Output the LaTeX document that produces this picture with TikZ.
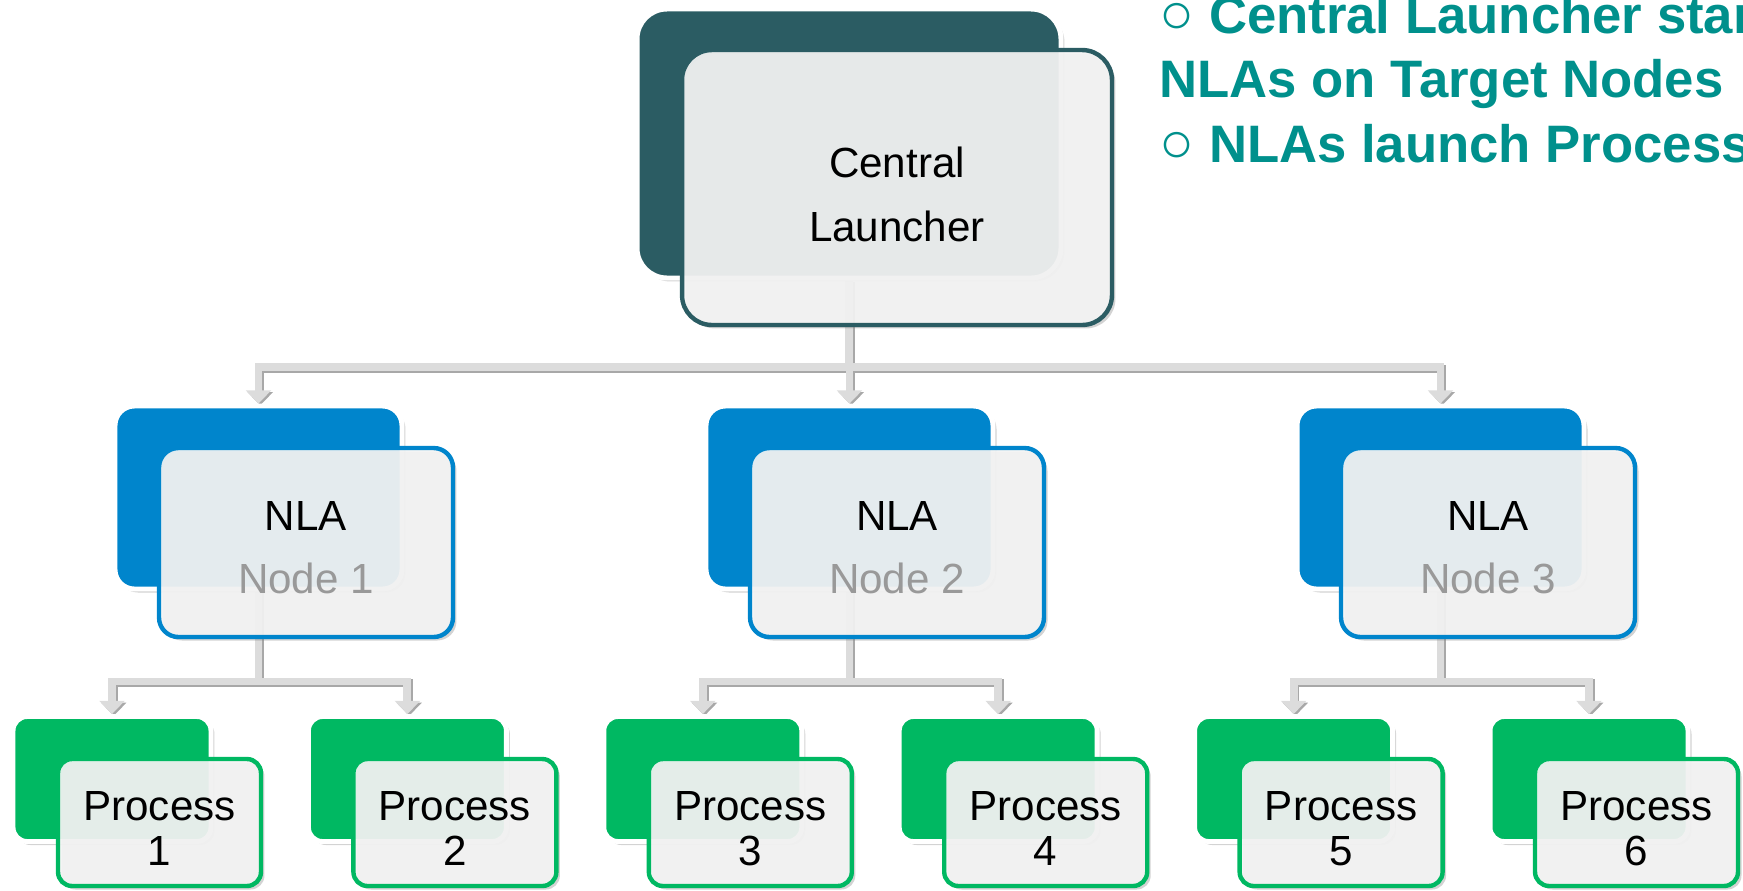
\documentclass[tikz,border=0pt]{standalone}
\usepackage{fontspec}
\setmainfont{Liberation Sans}
\usetikzlibrary{arrows.meta,shadows,backgrounds}
\definecolor{cldark}{HTML}{2B5C63}
\definecolor{nlablue}{HTML}{0085CC}
\definecolor{procgreen}{HTML}{00B862}
\definecolor{noteteal}{HTML}{00908C}
\definecolor{nodegray}{HTML}{999999}
\definecolor{wirefill}{HTML}{DCDCDC}
\definecolor{wireshade}{HTML}{A8A8A8}
\definecolor{panefill}{HTML}{F4F4F4}
\tikzset{
  back/.style={draw=white, line width=2.8pt, inner sep=0pt,
    drop shadow={shadow xshift=2pt, shadow yshift=-2pt, opacity=.35}},
  pane/.style={draw=#1, fill=panefill, fill opacity=.92, line width=2.5pt, inner sep=0pt,
    drop shadow={shadow xshift=2pt, shadow yshift=-2pt, opacity=.35}},
  panetext/.style={inner sep=0pt, align=center, font=\fontsize{24}{36}\selectfont},
  wire/.style={draw=wirefill, line width=4.5pt, -{Triangle[width=14pt,length=7.5pt]}},
  wireshadow/.style={wire, draw=wireshade, transform canvas={shift={(1pt,-1pt)}}},
  note/.style={text=noteteal, inner sep=0pt, anchor=base west,
    font=\bfseries\fontsize{30}{36}\selectfont},
}
\begin{document}
\begin{tikzpicture}[x=0.02cm,y=-0.02cm]
\useasboundingbox (0,0) rectangle (1743,890);
\clip (0,0) rectangle (1743,890);
\def\bullet{{\mdseries\fontsize{33}{33}\selectfont ○}\ }

% Central Launcher
\node[back, fill=cldark, rounded corners=17pt, minimum width=8.48cm, minimum height=5.38cm] (clb) at (849,143.5) {};
\node[pane=cldark, rounded corners=17pt, minimum width=8.6cm, minimum height=5.5cm] (clf) at (897,187.5) {};
\node[panetext] (clt) at ([yshift=-4pt]clf.center) {Central\\Launcher};

% NLAs, one per target node
\foreach \i in {1,2,3} {
  \node[back, fill=nlablue, rounded corners=11pt, minimum width=5.74cm, minimum height=3.66cm] (nlab\i) at ({258.5+591*(\i-1)},497.5) {};
  \node[pane=nlablue, rounded corners=11pt, minimum width=5.88cm, minimum height=3.78cm] (nlaf\i) at ({306+591*(\i-1)},542.5) {};
  \node[panetext] (nlat\i) at ([yshift=-3pt]nlaf\i.center) {NLA\\{\color{nodegray}Node \i}};
}

% Processes
\foreach \i in {1,...,6} {
  \node[back, fill=procgreen, rounded corners=8pt, minimum width=3.96cm, minimum height=2.5cm] (pb\i) at ({112+295.4*(\i-1)},779) {};
  \node[pane=procgreen, rounded corners=8pt, minimum width=4.06cm, minimum height=2.54cm] (pf\i) at ({159.5+295.4*(\i-1)},822.5) {};
  \node[panetext, font=\fontsize{24}{25.6}\selectfont] (pt\i) at ([yshift=-3.5pt]pf\i.center) {Process\\\i};
}

% launch arrows, behind the boxes
\begin{scope}[on background layer]
\foreach \i in {1,2,3} \draw[wireshadow] (clb.south) -- ++(0,87) -| (nlab\i.north);
\foreach \i [evaluate=\i as \j using {int((\i+1)/2)}] in {1,...,6}
  \draw[wireshadow] (nlab\j.south) -- ++(0,90) -| (pb\i.north);
\foreach \i in {1,2,3} \draw[wire] (clb.south) -- ++(0,87) -| (nlab\i.north);
\foreach \i [evaluate=\i as \j using {int((\i+1)/2)}] in {1,...,6}
  \draw[wire] (nlab\j.south) -- ++(0,90) -| (pb\i.north);
\end{scope}

% notes, top right
\node[note] (note1) at (1159,33) {\bullet Central Launcher starts};
\node[note] (note2) at (1159,97) {NLAs on Target Nodes};
\node[note] (note3) at (1159,162) {\bullet NLAs launch Processes};
\end{tikzpicture}
\end{document}
